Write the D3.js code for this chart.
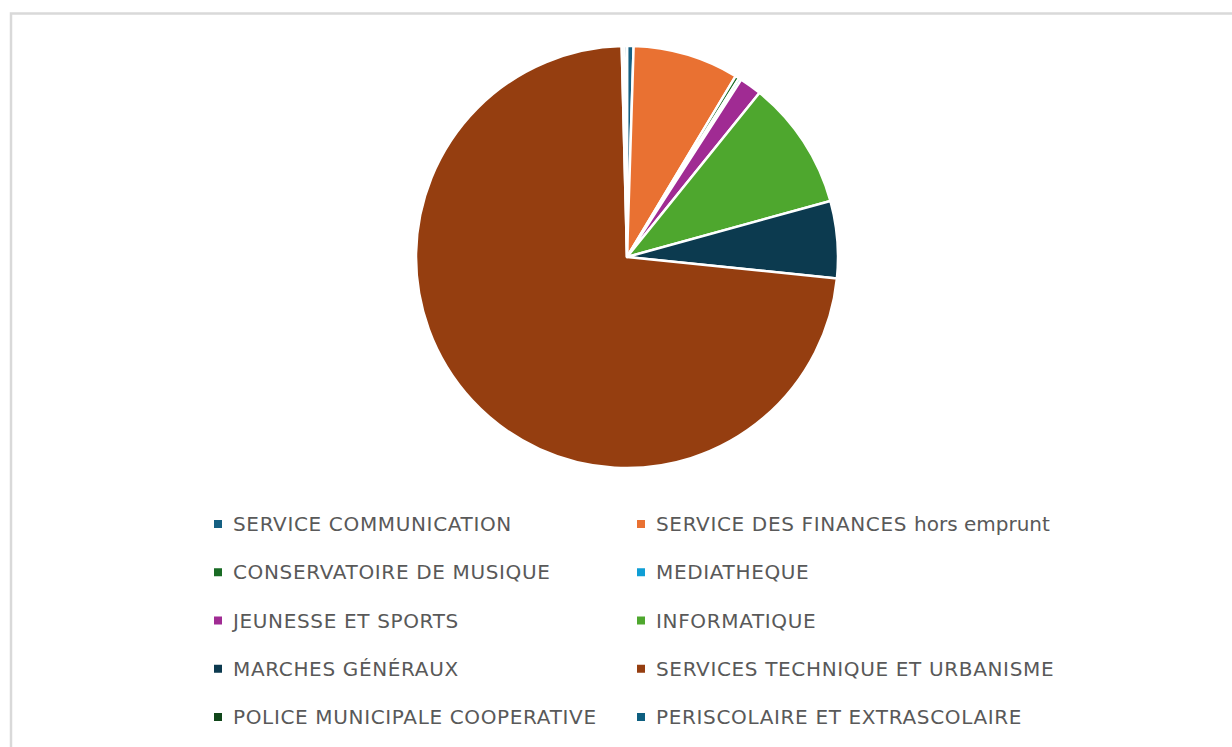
<!DOCTYPE html>
<meta charset="utf-8">
<style>
body, html {
  margin: 0;
  padding: 0;
  background: #fff;
}
.legend text {
  font: 20px "DejaVu Sans", sans-serif;
  fill: #595959;
  letter-spacing: 0.65px;
}
.legend tspan.lower {
  letter-spacing: 0;
}
</style>
<div id="svg-div"></div>
<script src="https://d3js.org/d3.v7.min.js"></script>
<script>
const width = 1232
const height = 747

// data (share of total, %)
const categories = [
  "SERVICE COMMUNICATION",
  "SERVICE DES FINANCES hors emprunt",
  "CONSERVATOIRE DE MUSIQUE",
  "MEDIATHEQUE",
  "JEUNESSE ET SPORTS",
  "INFORMATIQUE",
  "MARCHES GÉNÉRAUX",
  "SERVICES TECHNIQUE ET URBANISME",
  "POLICE MUNICIPALE COOPERATIVE",
  "PERISCOLAIRE ET EXTRASCOLAIRE"
]
const values = [0.5, 8.1, 0.3, 0.2, 1.7, 9.9, 5.9, 72.9, 0.2, 0.2]
const colors = [
  "#156082", "#e97132", "#196b24", "#0f9ed5", "#a02b93",
  "#4ea72e", "#0c3a4f", "#953e10", "#10461a", "#0e5f80"
]

const data = categories.map((c, i) => ({name: c, value: values[i], color: colors[i]}))

let svg = d3.select("#svg-div")
            .append("svg")
            .attr("width", width)
            .attr("height", height)

// chart frame
svg.append("rect")
   .attr("x", 11)
   .attr("y", 13.5)
   .attr("width", 1230)
   .attr("height", 760)
   .attr("fill", "none")
   .attr("stroke", "#d9d9d9")
   .attr("stroke-width", 2.5)

const cx = 627, cy = 257, radius = 211

var pie = d3.pie()
    .sort(null)
    .value(d => d.value)

var arc = d3.arc()
    .innerRadius(0)
    .outerRadius(radius)

let group = svg.append("g")
    .attr("transform", "translate(" + cx + "," + cy + ")")

group.selectAll("path")
  .data(pie(data))
  .enter()
  .append("path")
  .attr("d", arc)
  .attr("fill", d => d.data.color)
  .attr("stroke", "#fff")
  .attr("stroke-width", 2.5)
  .attr("stroke-linejoin", "round")

// legend, two columns
const colX = [214, 637]
const rowY = d3.scaleLinear().domain([0, 4]).range([524, 717])

let legend = svg.append("g").attr("class", "legend")
let item = legend.selectAll("g")
  .data(data)
  .enter()
  .append("g")
  .attr("transform", (d, i) => "translate(" + colX[i % 2] + "," + rowY(Math.floor(i / 2)) + ")")

item.append("rect")
  .attr("x", 0)
  .attr("y", -4)
  .attr("width", 8)
  .attr("height", 8)
  .attr("fill", d => d.color)

item.append("text")
  .attr("x", 19)
  .attr("dy", "0.35em")
  .each(function(d) {
    const t = d3.select(this)
    const m = d.name.indexOf(" hors ")
    if (m < 0) {
      t.text(d.name)
    } else {
      t.append("tspan").text(d.name.slice(0, m + 1))
      t.append("tspan").attr("class", "lower").text(d.name.slice(m + 1))
    }
  })
</script>
